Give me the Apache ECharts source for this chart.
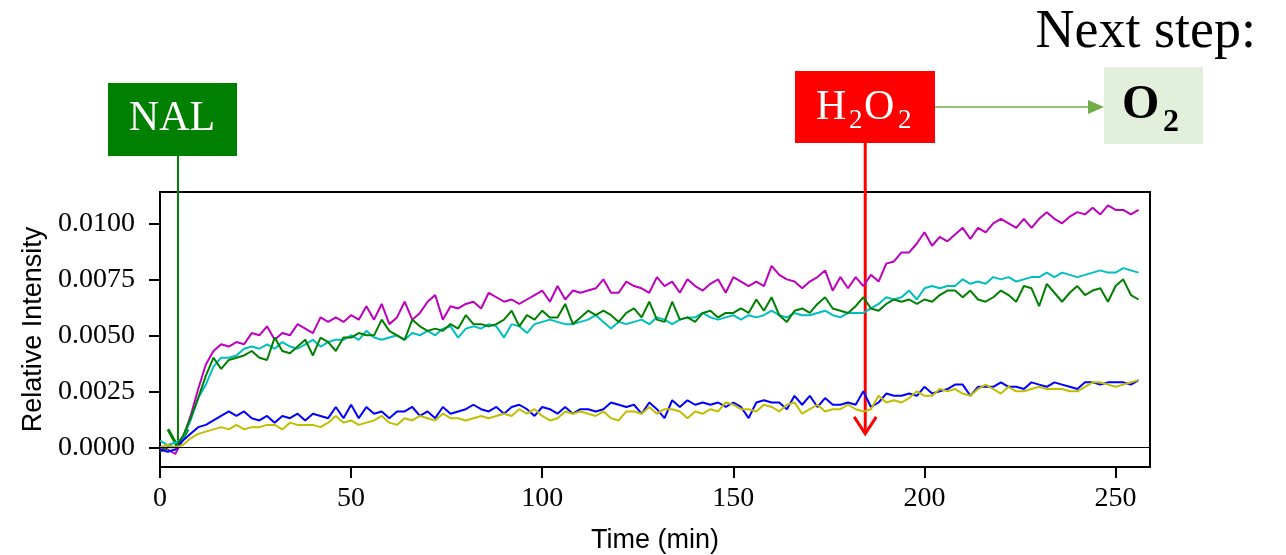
<!DOCTYPE html>
<html>
<head>
<meta charset="utf-8">
<script src="https://cdn.jsdelivr.net/npm/echarts@6/dist/echarts.min.js"></script>
<style>
  html, body { margin: 0; padding: 0; background: #fff; }
  #chart { width: 1286px; height: 555px; }
</style>
</head>
<body>
<div id="chart"></div>
<script>
  // time axis (min)
  const times = [
    0, 2, 4, 6, 8, 10, 12, 14, 16, 18,
    20, 22, 24, 26, 28, 30, 32, 34, 36, 38,
    40, 42, 44, 46, 48, 50, 52, 54, 56, 58,
    60, 62, 64, 66, 68, 70, 72, 74, 76, 78,
    80, 82, 84, 86, 88, 90, 92, 94, 96, 98,
    100, 102, 104, 106, 108, 110, 112, 114, 116, 118,
    120, 122, 124, 126, 128, 130, 132, 134, 136, 138,
    140, 142, 144, 146, 148, 150, 152, 154, 156, 158,
    160, 162, 164, 166, 168, 170, 172, 174, 176, 178,
    180, 182, 184, 186, 188, 190, 192, 194, 196, 198,
    200, 202, 204, 206, 208, 210, 212, 214, 216, 218,
    220, 222, 224, 226, 228, 230, 232, 234, 236, 238,
    240, 242, 244, 246, 248, 250, 252, 254, 256
  ]

  const magenta = [
    0.0000, -0.0001, -0.0003, 0.0004, 0.0014, 0.0026, 0.0037, 0.0043, 0.0046, 0.0045,
    0.0047, 0.0046, 0.0051, 0.0050, 0.0054, 0.0048, 0.0051, 0.0050, 0.0055, 0.0053,
    0.0051, 0.0058, 0.0056, 0.0058, 0.0056, 0.0059, 0.0057, 0.0063, 0.0057, 0.0064,
    0.0055, 0.0058, 0.0065, 0.0057, 0.0060, 0.0065, 0.0068, 0.0057, 0.0063, 0.0062,
    0.0064, 0.0065, 0.0062, 0.0069, 0.0067, 0.0065, 0.0066, 0.0064, 0.0066, 0.0068,
    0.0070, 0.0065, 0.0072, 0.0066, 0.0070, 0.0069, 0.0070, 0.0071, 0.0075, 0.0069,
    0.0069, 0.0074, 0.0072, 0.0071, 0.0069, 0.0076, 0.0072, 0.0074, 0.0069, 0.0075,
    0.0072, 0.0070, 0.0073, 0.0075, 0.0069, 0.0076, 0.0074, 0.0072, 0.0074, 0.0072,
    0.0081, 0.0077, 0.0075, 0.0074, 0.0071, 0.0074, 0.0076, 0.0079, 0.0070, 0.0076,
    0.0071, 0.0076, 0.0072, 0.0077, 0.0074, 0.0082, 0.0083, 0.0087, 0.0087, 0.0091,
    0.0096, 0.0090, 0.0094, 0.0092, 0.0095, 0.0098, 0.0093, 0.0098, 0.0096, 0.0100,
    0.0102, 0.0100, 0.0098, 0.0102, 0.0098, 0.0102, 0.0105, 0.0102, 0.0100, 0.0103,
    0.0105, 0.0104, 0.0107, 0.0104, 0.0108, 0.0106, 0.0106, 0.0104, 0.0106
  ]

  const cyan = [
    0.0003, 0.0001, 0.0002, 0.0004, 0.0012, 0.0022, 0.0028, 0.0036, 0.0040, 0.0040,
    0.0041, 0.0044, 0.0045, 0.0044, 0.0046, 0.0044, 0.0047, 0.0045, 0.0044, 0.0046,
    0.0048, 0.0045, 0.0047, 0.0048, 0.0048, 0.0050, 0.0048, 0.0052, 0.0049, 0.0048,
    0.0049, 0.0050, 0.0048, 0.0051, 0.0050, 0.0052, 0.0050, 0.0053, 0.0054, 0.0049,
    0.0053, 0.0054, 0.0053, 0.0055, 0.0054, 0.0049, 0.0055, 0.0054, 0.0051, 0.0055,
    0.0056, 0.0057, 0.0056, 0.0055, 0.0055, 0.0056, 0.0057, 0.0059, 0.0056, 0.0053,
    0.0056, 0.0055, 0.0056, 0.0057, 0.0055, 0.0058, 0.0057, 0.0055, 0.0057, 0.0058,
    0.0058, 0.0060, 0.0058, 0.0057, 0.0058, 0.0059, 0.0057, 0.0059, 0.0058, 0.0059,
    0.0061, 0.0059, 0.0058, 0.0060, 0.0059, 0.0059, 0.0060, 0.0061, 0.0059, 0.0058,
    0.0060, 0.0060, 0.0060, 0.0062, 0.0064, 0.0067, 0.0066, 0.0067, 0.0070, 0.0066,
    0.0071, 0.0072, 0.0071, 0.0072, 0.0072, 0.0075, 0.0073, 0.0074, 0.0073, 0.0076,
    0.0075, 0.0076, 0.0074, 0.0075, 0.0076, 0.0076, 0.0078, 0.0076, 0.0078, 0.0077,
    0.0076, 0.0077, 0.0078, 0.0079, 0.0078, 0.0078, 0.0080, 0.0079, 0.0078
  ]

  const green = [
    -0.0002, 0.0000, 0.0000, 0.0005, 0.0013, 0.0022, 0.0032, 0.0040, 0.0035, 0.0039,
    0.0040, 0.0041, 0.0043, 0.0040, 0.0039, 0.0049, 0.0043, 0.0042, 0.0045, 0.0048,
    0.0041, 0.0049, 0.0047, 0.0043, 0.0049, 0.0049, 0.0051, 0.0050, 0.0050, 0.0057,
    0.0052, 0.0050, 0.0048, 0.0057, 0.0054, 0.0052, 0.0053, 0.0052, 0.0055, 0.0053,
    0.0059, 0.0055, 0.0055, 0.0054, 0.0055, 0.0057, 0.0061, 0.0054, 0.0059, 0.0057,
    0.0061, 0.0058, 0.0058, 0.0064, 0.0055, 0.0058, 0.0061, 0.0059, 0.0061, 0.0059,
    0.0056, 0.0060, 0.0062, 0.0058, 0.0065, 0.0057, 0.0056, 0.0065, 0.0057, 0.0058,
    0.0056, 0.0060, 0.0061, 0.0058, 0.0060, 0.0060, 0.0062, 0.0060, 0.0066, 0.0061,
    0.0067, 0.0059, 0.0056, 0.0061, 0.0062, 0.0060, 0.0064, 0.0067, 0.0062, 0.0061,
    0.0060, 0.0063, 0.0067, 0.0062, 0.0061, 0.0064, 0.0066, 0.0065, 0.0066, 0.0064,
    0.0066, 0.0065, 0.0068, 0.0070, 0.0070, 0.0067, 0.0070, 0.0066, 0.0065, 0.0067,
    0.0070, 0.0068, 0.0065, 0.0072, 0.0071, 0.0063, 0.0073, 0.0069, 0.0065, 0.0069,
    0.0072, 0.0068, 0.0070, 0.0071, 0.0065, 0.0072, 0.0075, 0.0068, 0.0066
  ]

  const blue = [
    -0.0001, -0.0002, -0.0001, 0.0003, 0.0006, 0.0009, 0.0010, 0.0012, 0.0014, 0.0016,
    0.0014, 0.0016, 0.0013, 0.0012, 0.0014, 0.0011, 0.0014, 0.0013, 0.0015, 0.0012,
    0.0015, 0.0014, 0.0013, 0.0018, 0.0013, 0.0019, 0.0013, 0.0018, 0.0015, 0.0016,
    0.0013, 0.0016, 0.0016, 0.0018, 0.0014, 0.0016, 0.0013, 0.0018, 0.0015, 0.0016,
    0.0017, 0.0019, 0.0017, 0.0016, 0.0018, 0.0015, 0.0018, 0.0019, 0.0017, 0.0014,
    0.0018, 0.0017, 0.0015, 0.0018, 0.0015, 0.0017, 0.0017, 0.0016, 0.0017, 0.0020,
    0.0019, 0.0018, 0.0019, 0.0015, 0.0020, 0.0017, 0.0013, 0.0021, 0.0018, 0.0021,
    0.0019, 0.0020, 0.0019, 0.0020, 0.0018, 0.0020, 0.0018, 0.0013, 0.0020, 0.0021,
    0.0020, 0.0020, 0.0017, 0.0023, 0.0019, 0.0023, 0.0018, 0.0022, 0.0019, 0.0019,
    0.0020, 0.0019, 0.0025, 0.0018, 0.0020, 0.0024, 0.0023, 0.0023, 0.0024, 0.0023,
    0.0027, 0.0024, 0.0025, 0.0026, 0.0028, 0.0028, 0.0023, 0.0027, 0.0027, 0.0027,
    0.0029, 0.0027, 0.0027, 0.0026, 0.0029, 0.0028, 0.0027, 0.0029, 0.0028, 0.0027,
    0.0026, 0.0029, 0.0029, 0.0028, 0.0029, 0.0029, 0.0029, 0.0028, 0.0030
  ]

  const yellow = [
    0.0000, 0.0001, 0.0000, 0.0001, 0.0004, 0.0006, 0.0007, 0.0008, 0.0009, 0.0008,
    0.0010, 0.0008, 0.0009, 0.0009, 0.0010, 0.0010, 0.0008, 0.0011, 0.0010, 0.0010,
    0.0010, 0.0009, 0.0011, 0.0014, 0.0011, 0.0012, 0.0010, 0.0011, 0.0012, 0.0014,
    0.0011, 0.0010, 0.0013, 0.0012, 0.0014, 0.0013, 0.0012, 0.0015, 0.0013, 0.0013,
    0.0012, 0.0013, 0.0014, 0.0013, 0.0014, 0.0015, 0.0014, 0.0017, 0.0015, 0.0017,
    0.0014, 0.0012, 0.0013, 0.0016, 0.0015, 0.0016, 0.0015, 0.0014, 0.0016, 0.0013,
    0.0012, 0.0016, 0.0016, 0.0015, 0.0018, 0.0015, 0.0017, 0.0017, 0.0016, 0.0013,
    0.0016, 0.0015, 0.0017, 0.0016, 0.0020, 0.0019, 0.0017, 0.0017, 0.0016, 0.0019,
    0.0018, 0.0016, 0.0019, 0.0020, 0.0015, 0.0017, 0.0019, 0.0016, 0.0017, 0.0017,
    0.0019, 0.0017, 0.0016, 0.0017, 0.0023, 0.0020, 0.0021, 0.0020, 0.0022, 0.0025,
    0.0023, 0.0023, 0.0026, 0.0025, 0.0026, 0.0024, 0.0023, 0.0026, 0.0028, 0.0026,
    0.0024, 0.0027, 0.0025, 0.0025, 0.0026, 0.0027, 0.0026, 0.0026, 0.0026, 0.0025,
    0.0025, 0.0027, 0.0029, 0.0029, 0.0028, 0.0027, 0.0028, 0.0029, 0.0030
  ]

  const xTicks = [0, 50, 100, 150, 200, 250]
  const yTicks = [0, 0.0025, 0.005, 0.0075, 0.01]

  // where the reagents were added (min) and where the arrows end
  const nalTime = 4.7
  const nalTipValue = 0
  const h2o2Time = 184.5
  const h2o2TipValue = 0.0006

  const serif = "'Liberation Serif', serif"
  const sans = "'Liberation Sans', sans-serif"

  function pairs(vals) {
    return times.map((t, i) => [t, vals[i]])
  }

  function lineSeries(name, color, vals) {
    return {
      name: name,
      type: 'line',
      data: pairs(vals),
      showSymbol: false,
      symbol: 'none',
      lineStyle: { color: color, width: 2 },
      itemStyle: { color: color },
      animation: false
    }
  }

  const chart = echarts.init(document.getElementById('chart'))

  const series = [
    lineSeries('m', '#bf00bf', magenta),
    lineSeries('c', '#00bfbf', cyan),
    lineSeries('g', '#008000', green),
    lineSeries('b', '#0000ff', blue),
    lineSeries('y', '#bfbf00', yellow)
  ]
  // zero line
  series[0].markLine = {
    silent: true,
    symbol: ['none', 'none'],
    label: { show: false },
    lineStyle: { color: '#000', width: 1, type: 'solid' },
    data: [{ yAxis: 0 }],
    animation: false
  }

  chart.setOption({
    backgroundColor: '#fff',
    animation: false,
    grid: {
      left: 160,
      right: 136,
      top: 192,
      bottom: 88,
      show: true,
      borderColor: '#000',
      borderWidth: 2,
      containLabel: false,
      outerBoundsMode: 'none'
    },
    xAxis: {
      type: 'value',
      min: 0,
      max: 259,
      name: 'Time (min)',
      nameLocation: 'middle',
      nameGap: 60,
      nameTextStyle: { fontFamily: sans, fontSize: 27, color: '#000' },
      axisLine: { show: true, onZero: false, lineStyle: { color: '#000', width: 2 } },
      axisTick: { show: true, length: 11, lineStyle: { color: '#000', width: 2 }, customValues: xTicks },
      axisLabel: { fontFamily: serif, fontSize: 28, color: '#000', margin: 18, customValues: xTicks },
      splitLine: { show: false }
    },
    yAxis: {
      type: 'value',
      min: -0.00088,
      max: 0.0114,
      name: 'Relative Intensity',
      nameLocation: 'middle',
      nameGap: 113,
      nameTextStyle: { fontFamily: sans, fontSize: 27, color: '#000' },
      axisLine: { show: true, onZero: false, lineStyle: { color: '#000', width: 2 } },
      axisTick: { show: true, length: 11, lineStyle: { color: '#000', width: 2 }, customValues: yTicks },
      axisLabel: {
        fontFamily: serif, fontSize: 28, color: '#000', margin: 25, customValues: yTicks,
        formatter: v => v.toFixed(4)
      },
      splitLine: { show: false }
    },
    series: series
  })

  // annotation arrows hang from the boxes down to the data
  const nalTip = chart.convertToPixel({ gridIndex: 0 }, [nalTime, nalTipValue])
  const h2Tip = chart.convertToPixel({ gridIndex: 0 }, [h2o2Time, h2o2TipValue])

  chart.setOption({
    graphic: [
      // NAL
      { type: 'rect', shape: { x: 108, y: 83, width: 129, height: 73 }, style: { fill: '#008000' } },
      { type: 'text', x: 172, y: 119, style: { text: 'NAL', fill: '#fff', font: '42px ' + serif, align: 'center', verticalAlign: 'middle' } },
      { type: 'line', shape: { x1: nalTip[0], y1: 156, x2: nalTip[0], y2: nalTip[1] }, style: { stroke: '#008000', lineWidth: 2 } },
      { type: 'polyline', shape: { points: [[nalTip[0] - 10, nalTip[1] - 18], [nalTip[0], nalTip[1]], [nalTip[0] + 10, nalTip[1] - 18]] }, style: { stroke: '#008000', lineWidth: 3, fill: null } },

      // H2O2
      { type: 'rect', shape: { x: 795, y: 71, width: 140, height: 72 }, style: { fill: '#ff0000' } },
      { type: 'text', x: 816, y: 108, style: { text: 'H', fill: '#fff', font: '42px ' + serif, align: 'left', verticalAlign: 'middle' } },
      { type: 'text', x: 849, y: 121, style: { text: '2', fill: '#fff', font: '27px ' + serif, align: 'left', verticalAlign: 'middle' } },
      { type: 'text', x: 864, y: 108, style: { text: 'O', fill: '#fff', font: '42px ' + serif, align: 'left', verticalAlign: 'middle' } },
      { type: 'text', x: 898, y: 121, style: { text: '2', fill: '#fff', font: '27px ' + serif, align: 'left', verticalAlign: 'middle' } },
      { type: 'line', shape: { x1: h2Tip[0], y1: 143, x2: h2Tip[0], y2: h2Tip[1] }, style: { stroke: '#ff0000', lineWidth: 3 } },
      { type: 'polyline', shape: { points: [[h2Tip[0] - 11, h2Tip[1] - 17], [h2Tip[0], h2Tip[1]], [h2Tip[0] + 11, h2Tip[1] - 17]] }, style: { stroke: '#ff0000', lineWidth: 3, fill: null } },

      // next step arrow and O2 box
      { type: 'line', shape: { x1: 935, y1: 107, x2: 1090, y2: 107 }, style: { stroke: '#70ad47', lineWidth: 1.5 } },
      { type: 'polygon', shape: { points: [[1088, 100], [1104, 107], [1088, 114]] }, style: { fill: '#70ad47' } },
      { type: 'rect', shape: { x: 1104, y: 67, width: 99, height: 77 }, style: { fill: '#e2efda' } },
      { type: 'text', x: 1122, y: 106, style: { text: 'O', fill: '#000', font: 'bold 48px ' + serif, align: 'left', verticalAlign: 'middle' } },
      { type: 'text', x: 1163, y: 123, style: { text: '2', fill: '#000', font: 'bold 32px ' + serif, align: 'left', verticalAlign: 'middle' } },

      { type: 'text', x: 1256, y: 33, style: { text: 'Next step:', fill: '#000', font: '54px ' + serif, align: 'right', verticalAlign: 'middle' } }
    ]
  })
</script>
</body>
</html>
